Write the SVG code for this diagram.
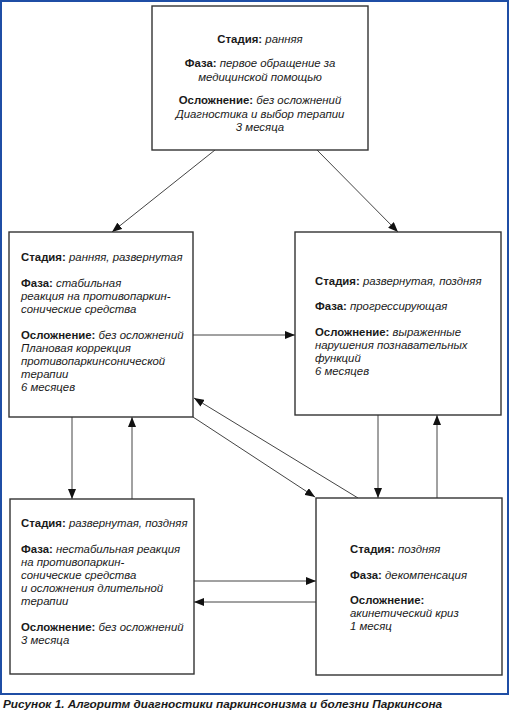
<svg xmlns="http://www.w3.org/2000/svg" width="510" height="712" viewBox="0 0 510 712">
<defs>
<marker id="ah" viewBox="0 0 10 8" refX="10" refY="4" markerWidth="10" markerHeight="8" markerUnits="userSpaceOnUse" orient="auto">
<path d="M0,0 L10,4 L0,8 Z" fill="#111"/>
</marker>
</defs>
<style>
.box{fill:#fff;stroke:#333;stroke-width:1.4}
.c{stroke:#444;stroke-width:1;fill:none;marker-end:url(#ah)}
text{font-family:"Liberation Sans",Arial,sans-serif;font-size:11.4px;fill:#1a1a1a}
.b{font-weight:bold}
.i{font-style:italic}
.cap{font-weight:bold;font-style:italic;font-size:11.8px}
</style>
<rect x="1" y="1" width="507" height="693" fill="#fff" stroke="#1f4ea5" stroke-width="2"/>
<g id="connectors">
<line class="c" x1="215" y1="150" x2="112" y2="232"/>
<line class="c" x1="317" y1="150" x2="398" y2="232"/>
<line class="c" x1="193" y1="335" x2="295" y2="335"/>
<line class="c" x1="72" y1="417" x2="72" y2="499"/>
<line class="c" x1="132" y1="499" x2="132" y2="417"/>
<line class="c" x1="193" y1="417" x2="315" y2="497"/>
<line class="c" x1="358" y1="498" x2="194" y2="398"/>
<line class="c" x1="378" y1="415" x2="378" y2="498"/>
<line class="c" x1="437" y1="498" x2="437" y2="415"/>
<line class="c" x1="194" y1="581" x2="316" y2="581"/>
<line class="c" x1="316" y1="602" x2="194" y2="602"/>
</g>
<g id="n_top">
<rect class="box" x="152" y="6" width="216" height="144"/>
<text x="260" y="43" text-anchor="middle"><tspan class="b">Стадия: </tspan><tspan class="i">ранняя</tspan></text>
<text x="260" y="67" text-anchor="middle"><tspan class="b">Фаза: </tspan><tspan class="i">первое обращение за</tspan></text>
<text x="260" y="81" text-anchor="middle" class="i">медицинской помощью</text>
<text x="260" y="104" text-anchor="middle"><tspan class="b">Осложнение: </tspan><tspan class="i">без осложнений</tspan></text>
<text x="260" y="118" text-anchor="middle" class="i">Диагностика и выбор терапии</text>
<text x="260" y="131" text-anchor="middle" class="i">3 месяца</text>
</g>
<g id="n_left">
<rect class="box" x="9" y="232" width="184" height="185"/>
<text x="21" y="261"><tspan class="b">Стадия: </tspan><tspan class="i">ранняя, развернутая</tspan></text>
<text x="21" y="287"><tspan class="b">Фаза: </tspan><tspan class="i">стабильная</tspan></text>
<text x="21" y="300" class="i">реакция на противопаркин-</text>
<text x="21" y="313" class="i">сонические средства</text>
<text x="21" y="339"><tspan class="b">Осложнение: </tspan><tspan class="i">без осложнений</tspan></text>
<text x="21" y="352" class="i">Плановая коррекция</text>
<text x="21" y="365" class="i">противопаркинсонической</text>
<text x="21" y="378" class="i">терапии</text>
<text x="21" y="391" class="i">6 месяцев</text>
</g>
<g id="n_right">
<rect class="box" x="295" y="232" width="206" height="183"/>
<text x="315" y="285"><tspan class="b">Стадия: </tspan><tspan class="i">развернутая, поздняя</tspan></text>
<text x="315" y="310"><tspan class="b">Фаза: </tspan><tspan class="i">прогрессирующая</tspan></text>
<text x="315" y="336"><tspan class="b">Осложнение: </tspan><tspan class="i">выраженные</tspan></text>
<text x="315" y="349" class="i">нарушения познавательных</text>
<text x="315" y="362" class="i">функций</text>
<text x="315" y="375" class="i">6 месяцев</text>
</g>
<g id="n_botleft">
<rect class="box" x="10" y="499" width="184" height="175"/>
<text x="21" y="527"><tspan class="b">Стадия: </tspan><tspan class="i">развернутая, поздняя</tspan></text>
<text x="21" y="553"><tspan class="b">Фаза: </tspan><tspan class="i">нестабильная реакция</tspan></text>
<text x="21" y="566" class="i">на противопаркин-</text>
<text x="21" y="579" class="i">сонические средства</text>
<text x="21" y="592" class="i">и осложнения длительной</text>
<text x="21" y="605" class="i">терапии</text>
<text x="21" y="631"><tspan class="b">Осложнение: </tspan><tspan class="i">без осложнений</tspan></text>
<text x="21" y="644" class="i">3 месяца</text>
</g>
<g id="n_botright">
<rect class="box" x="316" y="498" width="186" height="177"/>
<text x="350" y="553"><tspan class="b">Стадия: </tspan><tspan class="i">поздняя</tspan></text>
<text x="350" y="579"><tspan class="b">Фаза: </tspan><tspan class="i">декомпенсация</tspan></text>
<text x="350" y="604" class="b">Осложнение:</text>
<text x="350" y="617" class="i">акинетический криз</text>
<text x="350" y="630" class="i">1 месяц</text>
</g>
<text class="cap" x="3" y="708">Рисунок 1. Алгоритм диагностики паркинсонизма и болезни Паркинсона</text>
</svg>
